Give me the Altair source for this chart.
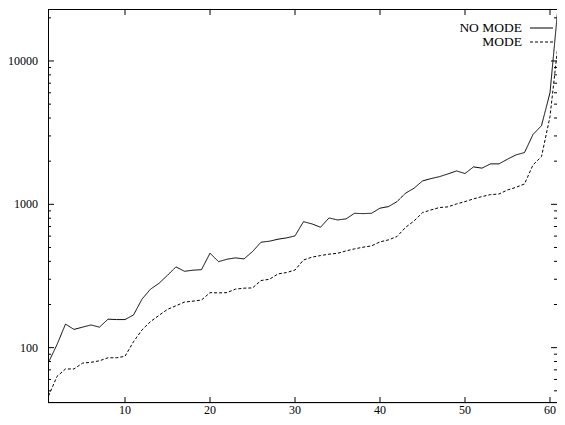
import altair as alt
import pandas as pd

x_vals = list(range(1, 62))
no_mode = [79, 105, 146, 134, 139, 144, 139, 158, 157, 157,
           169, 218, 256, 281, 320, 366, 341, 347, 350, 456,
           398, 414, 423, 416, 468, 544, 553, 571, 583, 602,
           757, 730, 692, 803, 778, 791, 866, 861, 866, 940,
           964, 1044, 1195, 1295, 1456, 1511, 1560, 1630, 1710, 1640,
           1824, 1788, 1915, 1915, 2065, 2213, 2296, 3070, 3540, 6000,
           26000]
mode = [46, 63, 71, 71, 78, 79, 81, 85, 85, 87,
        110, 133, 152, 168, 185, 196, 208, 211, 215, 242,
        241, 242, 256, 260, 261, 294, 300, 327, 334, 348,
        409, 428, 439, 449, 455, 473, 489, 502, 513, 547,
        565, 596, 690, 765, 875, 914, 950, 960, 1006, 1045,
        1091, 1133, 1169, 1180, 1259, 1314, 1387, 1884, 2152, 4090,
        14000]
series_names = ["NO MODE", "MODE"]
x_ticks = [10, 20, 30, 40, 50, 60]
y_major = [100, 1000, 10000]
y_minor = [50, 60, 70, 80, 90, 200, 300, 400, 500, 600, 700, 800, 900,
           2000, 3000, 4000, 5000, 6000, 7000, 8000, 9000, 20000]

W, H = 509, 394
FONT = "Liberation Serif"
FS = 12
LFS = 13.5

df = pd.DataFrame({
    "x": x_vals * 2,
    "v": no_mode + mode,
    "series": [series_names[0]] * len(x_vals) + [series_names[1]] * len(x_vals),
})

xscale = alt.Scale(domain=[0.941, 60.823], nice=False, zero=False)
yscale = alt.Scale(type="log", domain=[41.1, 23050], nice=False)
dash_scale = alt.Scale(domain=series_names, range=[[1, 0], [3, 2]])

lines = alt.Chart(df).mark_line(color="black", strokeWidth=1, clip=True).encode(
    x=alt.X("x:Q", scale=xscale, axis=None),
    y=alt.Y("v:Q", scale=yscale, axis=None),
    strokeDash=alt.StrokeDash("series:N", scale=dash_scale, legend=None),
    detail="series:N",
)

one = pd.DataFrame({"k": [0]})
border = [
    alt.Chart(one).mark_rule(color="black", strokeWidth=1).encode(
        x=alt.value(0.5), y=alt.value(0), y2=alt.value(H)),
    alt.Chart(one).mark_rule(color="black", strokeWidth=1).encode(
        x=alt.value(0), x2=alt.value(W), y=alt.value(0.5)),
    alt.Chart(one).mark_rule(color="black", strokeWidth=1).encode(
        x=alt.value(0), x2=alt.value(W), y=alt.value(H - 0.5)),
]

xt = pd.DataFrame({"t": x_ticks, "lab": [str(v) for v in x_ticks]})
ymaj = pd.DataFrame({"t": y_major, "lab": [str(v) for v in y_major]})
ymin = pd.DataFrame({"t": y_minor})

def xtick(y0, y1):
    return alt.Chart(xt).mark_rule(color="black", strokeWidth=1).encode(
        x=alt.X("t:Q", scale=xscale, axis=None), y=alt.value(y0), y2=alt.value(y1))

def ytick(d, x0, x1):
    return alt.Chart(d).mark_rule(color="black", strokeWidth=1).encode(
        y=alt.Y("t:Q", scale=yscale, axis=None), x=alt.value(x0), x2=alt.value(x1))

ticks = [
    xtick(H, H - 6), xtick(0, 6),
    ytick(ymaj, 0, 6), ytick(ymaj, W, W - 6),
    ytick(ymin, 0, 3), ytick(ymin, W, W - 3),
]

xlabels = alt.Chart(xt).mark_text(baseline="middle", align="center", font=FONT,
                                  fontSize=FS, color="black").encode(
    x=alt.X("t:Q", scale=xscale, axis=None), y=alt.value(H + 7), text="lab:N")
ylabels = alt.Chart(ymaj).mark_text(baseline="middle", align="right", font=FONT,
                                    fontSize=FS, color="black").encode(
    y=alt.Y("t:Q", scale=yscale, axis=None), x=alt.value(-10), text="lab:N")

leg_layers = []
for i, name in enumerate(series_names):
    ld = pd.DataFrame({"label": [name], "series": [name]})
    yy = 19 + i * 14
    leg_layers.append(alt.Chart(ld).mark_text(align="right", baseline="middle", font=FONT,
                                              fontSize=LFS, color="black").encode(
        text="label:N", x=alt.value(474), y=alt.value(yy)))
    leg_layers.append(alt.Chart(ld).mark_rule(color="black", strokeWidth=1).encode(
        x=alt.value(482), x2=alt.value(505), y=alt.value(yy),
        strokeDash=alt.StrokeDash("series:N", scale=dash_scale, legend=None)))

chart = alt.layer(lines, *border, *ticks, xlabels, ylabels, *leg_layers).properties(
    width=W, height=H,
    autosize=alt.AutoSizeParams(type="none"),
    padding={"left": 40, "top": 1, "right": 0, "bottom": 14},
).configure_view(stroke="transparent").configure(background="white")

chart.save("out.html", embed_options={"renderer": "svg", "actions": False})
